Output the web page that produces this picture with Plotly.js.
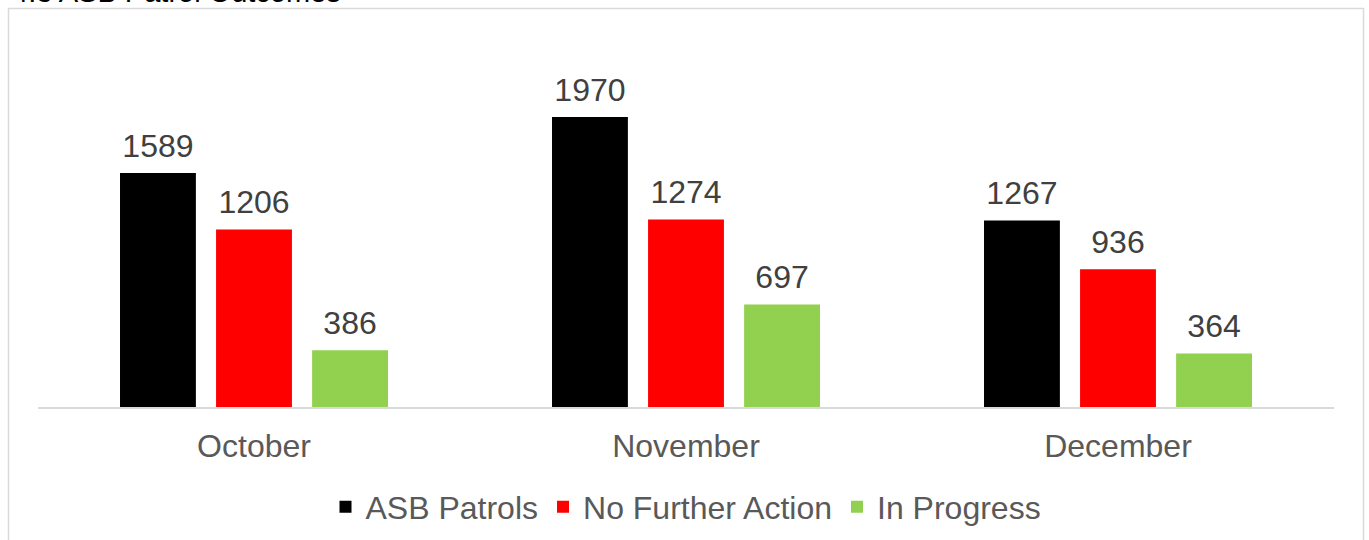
<!DOCTYPE html>
<html>
<head>
<meta charset="utf-8">
<script src="https://cdn.plot.ly/plotly-3.0.1.min.js"></script>
<style>html,body{margin:0;padding:0;background:#fff;}#chart{width:1369px;height:540px;}</style>
</head>
<body>
<div id="chart"></div>
<script>
var categories = ["October", "November", "December"];
var asbPatrols = [1589, 1970, 1267];
var noFurtherAction = [1206, 1274, 936];
var inProgress = [386, 697, 364];
var seriesNames = ["ASB Patrols", "No Further Action", "In Progress"];
var seriesColors = ["#000000", "#FF0000", "#92D050"];
var chartTitle = "4.3 ASB Patrol Outcomes";

var W = 1369, H = 540;
var mL = 38, mR = 35, mT = 39, mB = 133;
var pw = W - mL - mR, ph = H - mT - mB;
function px2paperX(x) { return (x - mL) / pw; }
function px2paperY(y) { return (H - mB - y) / ph; }

var font = "Liberation Sans, Arial, sans-serif";
var allSeries = [asbPatrols, noFurtherAction, inProgress];
var bars = allSeries.map(function (vals, i) {
  return {
    type: "bar",
    name: seriesNames[i],
    x: categories,
    y: vals,
    marker: { color: seriesColors[i] },
    hoverinfo: "skip"
  };
});
var labels = allSeries.map(function (vals, i) {
  return {
    type: "scatter",
    mode: "markers+text",
    name: seriesNames[i] + " labels",
    showlegend: false,
    x: categories,
    y: vals,
    text: vals.map(String),
    textposition: "top center",
    textfont: { family: font, size: 32, color: "#404040" },
    marker: { size: 12, opacity: 0, color: seriesColors[i] },
    cliponaxis: false,
    hoverinfo: "skip"
  };
});

var layout = {
  width: W, height: H,
  margin: { l: mL, r: mR, t: mT, b: mB, pad: 0, autoexpand: false },
  paper_bgcolor: "#ffffff",
  plot_bgcolor: "#ffffff",
  barmode: "group",
  bargap: 0.333,
  bargroupgap: 0.21,
  scattermode: "group",
  scattergap: 0.333,
  showlegend: true,
  font: { family: font, color: "#595959" },
  xaxis: {
    showline: true, linecolor: "#d9d9d9", linewidth: 2,
    ticks: "", showgrid: false, zeroline: false,
    tickfont: { family: font, size: 32, color: "#595959" },
    ticklabelstandoff: 10,
    fixedrange: true
  },
  yaxis: {
    range: [0, 2500], visible: false, showgrid: false, zeroline: false, fixedrange: true
  },
  legend: {
    orientation: "h",
    x: 0.5, xanchor: "center", xref: "paper",
    y: 1 - 507 / H, yanchor: "middle", yref: "container",
    font: { family: font, size: 32, color: "#595959" },
    itemwidth: 30,
    traceorder: "normal",
    itemclick: false
  },
  shapes: [{
    type: "rect", xref: "paper", yref: "paper",
    x0: px2paperX(8.5), x1: px2paperX(1363.5),
    y0: px2paperY(580), y1: px2paperY(8.5),
    line: { color: "#d9d9d9", width: 1.5 },
    fillcolor: "rgba(0,0,0,0)",
    layer: "below"
  }],
  annotations: [{
    text: chartTitle,
    xref: "paper", yref: "paper",
    x: px2paperX(10), xanchor: "left",
    y: px2paperY(10), yanchor: "bottom",
    showarrow: false,
    font: { family: font, size: 29, color: "#000000" }
  }]
};

Plotly.newPlot("chart", bars.concat(labels), layout, { displayModeBar: false, staticPlot: true });
</script>
</body>
</html>
